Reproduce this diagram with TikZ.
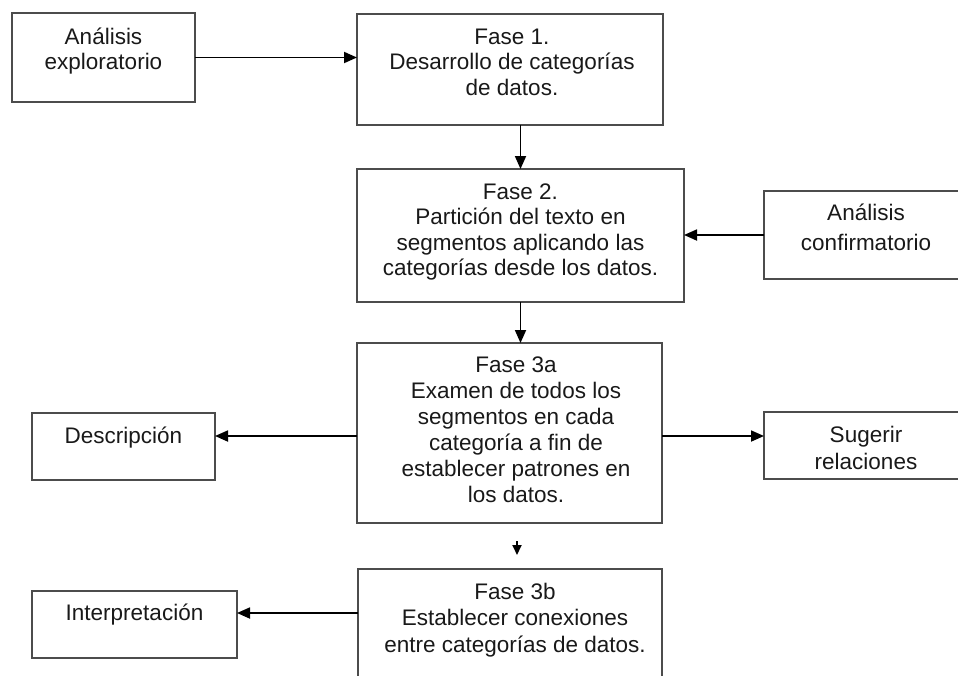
\documentclass[tikz,border=0pt]{standalone}
\usepackage{fontspec}
\setmainfont{Liberation Sans}
\usetikzlibrary{arrows.meta,calc}
% width, height, first baseline, left shift, baselineskip, text
\newcommand{\bxt}[6]{\parbox[c][#2][t]{#1}{\fontsize{22.5}{#5}\selectfont\centering\leftskip=#4 plus 1fil\relax\rule{0pt}{#3}#6}}
\tikzset{
  box/.style={draw=black!70, line width=1.7pt, inner sep=0pt, outer sep=0pt, text=black!90},
  arr/.style={draw=black, line width=1.8pt, -{Triangle[length=13pt,width=11pt]}},
  arrsmall/.style={draw=black, line width=1.8pt, -{Triangle[length=10pt,width=9pt]}}
}
\begin{document}
\begin{tikzpicture}[x=1pt,y=-1pt]
\useasboundingbox (0,0) rectangle (958,675);
\clip (0,0) rectangle (958,675);
\node[box] (explo) at (103.5,57.5) {\bxt{183pt}{89pt}{31pt}{0pt}{25pt}{Análisis\\exploratorio}};
\node[box] (fase1) at (510,69.5) {\bxt{306pt}{111pt}{30pt}{4pt}{25.5pt}{Fase 1.\\Desarrollo de categorías\\de datos.}};
\node[box] (fase2) at (520.5,235.5) {\bxt{327pt}{133pt}{30pt}{0pt}{25.5pt}{Fase 2.\\Partición del texto en\\segmentos aplicando las\\categorías desde los datos.}};
\node[box] (confirm) at (866,235) {\bxt{204pt}{88pt}{29pt}{0pt}{30pt}{Análisis\\confirmatorio}};
\node[box] (fase3a) at (509.5,433) {\bxt{305pt}{180pt}{29pt}{13pt}{26pt}{Fase 3a\\Examen de todos los\\segmentos en cada\\categoría a fin de\\establecer patrones en\\los datos.}};
\node[box] (desc) at (123.5,446.5) {\bxt{183pt}{67pt}{30pt}{0pt}{26pt}{Descripción}};
\node[box] (sug) at (866,445.5) {\bxt{204pt}{67pt}{30pt}{0pt}{27pt}{Sugerir\\relaciones}};
\node[box] (fase3b) at (510,634.5) {\bxt{304pt}{131pt}{30pt}{10pt}{26.5pt}{Fase 3b\\Establecer conexiones\\entre categorías de datos.}};
\node[box] (interp) at (134.5,624.5) {\bxt{205pt}{67pt}{29pt}{0pt}{26pt}{Interpretación}};
\coordinate (r3a) at (0,436);
\coordinate (r3b) at (0,613);
\draw[arr] (explo.east) -- (explo.east -| fase1.west);
\draw[arr] (fase1.south -| fase2.north) -- (fase2.north);
\draw[arr] (confirm.west) -- (confirm.west -| fase2.east);
\draw[arr] (fase2.south) -- (fase2.south |- fase3a.north);
\draw[arr] (fase3a.west |- r3a) -- (desc.east |- r3a);
\draw[arr] (fase3a.east |- r3a) -- (sug.west |- r3a);
\draw[arrsmall, shorten <=18pt, shorten >=14pt] ($(fase3a.south)+(7.5,0)$) -- ($(fase3b.north)+(7,0)$);
\draw[arr] (fase3b.west |- r3b) -- (interp.east |- r3b);
\end{tikzpicture}
\end{document}
